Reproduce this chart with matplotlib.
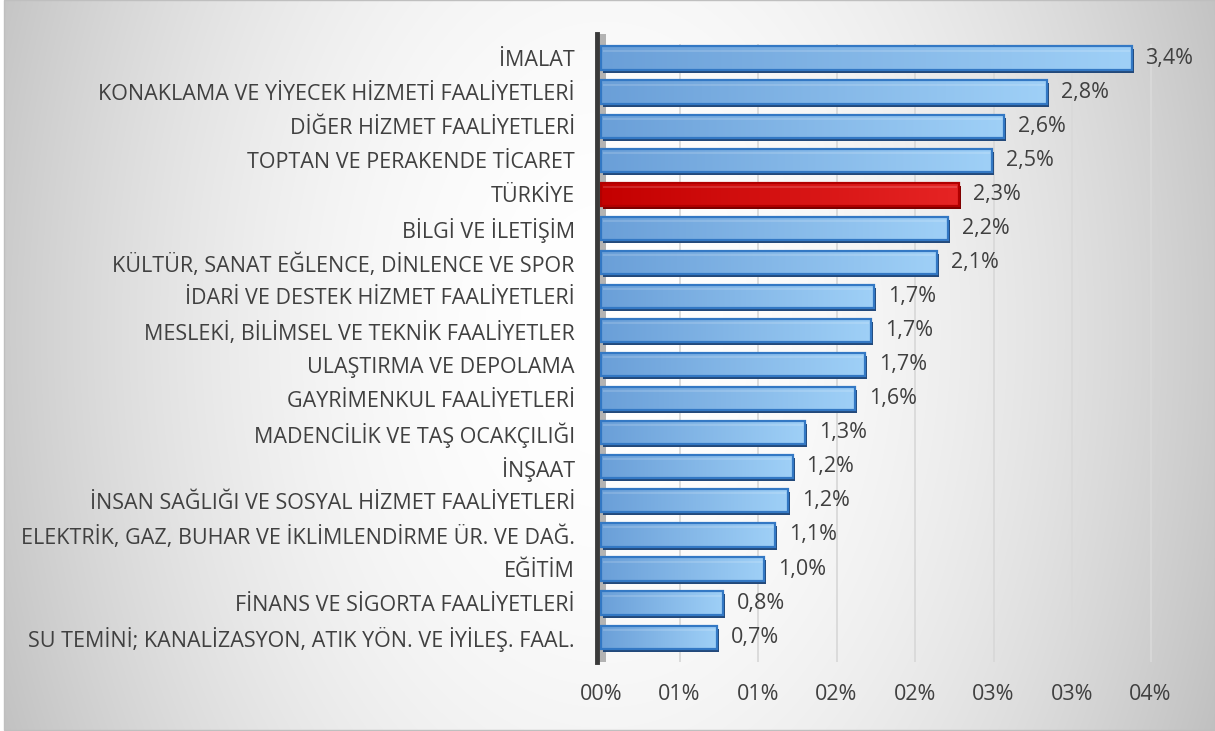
import numpy as np
import matplotlib
matplotlib.use("Agg")
import matplotlib.pyplot as plt
from matplotlib.patches import Rectangle
from matplotlib.transforms import offset_copy

plt.rcParams["font.family"] = ["Open Sans", "DejaVu Sans"]

# ---------- data ----------
categories = [
    "İMALAT",
    "KONAKLAMA VE YİYECEK HİZMETİ FAALİYETLERİ",
    "DİĞER HİZMET FAALİYETLERİ",
    "TOPTAN VE PERAKENDE TİCARET",
    "TÜRKİYE",
    "BİLGİ VE İLETİŞİM",
    "KÜLTÜR, SANAT EĞLENCE, DİNLENCE VE SPOR",
    "İDARİ VE DESTEK HİZMET FAALİYETLERİ",
    "MESLEKİ, BİLİMSEL VE TEKNİK FAALİYETLER",
    "ULAŞTIRMA VE DEPOLAMA",
    "GAYRİMENKUL FAALİYETLERİ",
    "MADENCİLİK VE TAŞ OCAKÇILIĞI",
    "İNŞAAT",
    "İNSAN SAĞLIĞI VE SOSYAL HİZMET FAALİYETLERİ",
    "ELEKTRİK, GAZ, BUHAR VE İKLİMLENDİRME ÜR. VE DAĞ.",
    "EĞİTİM",
    "FİNANS VE SİGORTA FAALİYETLERİ",
    "SU TEMİNİ; KANALİZASYON, ATIK YÖN. VE İYİLEŞ. FAAL.",
]
values = [3.38, 2.84, 2.57, 2.49, 2.28, 2.21, 2.14, 1.74, 1.72, 1.68,
          1.62, 1.30, 1.22, 1.19, 1.11, 1.04, 0.78, 0.74]
highlight = "TÜRKİYE"
xticks = [0, 0.5, 1.0, 1.5, 2.0, 2.5, 3.0, 3.5]
xtick_labels = ["00%", "01%", "01%", "02%", "02%", "03%", "03%", "04%"]

TXT = "#404040"
FS = 15.5
W, H = 1215, 731

fig = plt.figure(figsize=(W / 100, H / 100), dpi=100)

# radial grey background of the chart area
bg = fig.add_axes([4 / W, 1 / H, 1 - 4 / W, 1 - 1 / H], zorder=-10)
yy, xx = np.mgrid[0:H, 0:W - 4]
d2 = ((xx - 600) / 600.0) ** 2 + ((yy - 330) / 900.0) ** 2
shade = np.clip(1 - 0.2 * d2, 0, 1)
bg.imshow(np.dstack([shade] * 3), aspect="auto", interpolation="bilinear")
bg.set_axis_off()
fig.add_artist(Rectangle((4 / W, 1 / H), 1 - 4 / W, 1 - 1 / H, transform=fig.transFigure,
                         fill=False, ec="#bfbfbf", lw=1))

ax = fig.add_axes([597 / W, 1 - 662 / H, (1200 - 597) / W, (662 - 34) / H])
ax.patch.set_alpha(0)
x0, x1 = -4 / 157, (1200 - 601) / 157
y0, y1 = 17.73, -0.705

# side wall next to the axis
ax.axvspan(x0, 0.03, color="#b3b3b3", zorder=1, lw=0)
# gridlines
ax.vlines(xticks[1:], y1 + 0.3, y0, color="#d9d9d9", lw=1.3, zorder=1)

grad = np.linspace(0, 1, 256).reshape(1, -1)
blue_cmap = matplotlib.colors.LinearSegmentedColormap.from_list("b", ["#6a9fd8", "#9fd0f7"])
red_cmap = matplotlib.colors.LinearSegmentedColormap.from_list("r", ["#c40000", "#e62424"])
h = 0.68
shadow_tr = offset_copy(ax.transData, fig=fig, x=2, y=-3, units="dots")
for i, (cat, v) in enumerate(zip(categories, values)):
    red = cat == highlight
    edge = "#b00000" if red else "#3378c4"
    dark = "#7a0000" if red else "#23497a"
    cmap = red_cmap if red else blue_cmap
    sh = Rectangle((0, i - h / 2), v, h, transform=shadow_tr, fc=dark, ec="none", zorder=2)
    ax.add_patch(sh)
    rect = Rectangle((0, i - h / 2), v, h, fc="none", ec=edge, lw=1.6, zorder=4)
    ax.add_patch(rect)
    im = ax.imshow(grad, cmap=cmap, aspect="auto", extent=(0, v, i + h / 2, i - h / 2),
                   zorder=3, interpolation="bilinear")
    im.set_clip_path(rect)
    # thin highlight near top
    ax.plot([0.01, v - 0.01], [i - h / 2 + 0.12, i - h / 2 + 0.12],
            color="white", alpha=0.18, lw=1.2, zorder=3.5, solid_capstyle="butt")
    ax.annotate(f"{v:.1f}%".replace(".", ","), (v, i), xytext=(10, 0),
                textcoords="offset points", va="center", ha="left",
                fontsize=FS, color=TXT, annotation_clip=False)

ax.set_xlim(x0, x1)
ax.set_ylim(y0, y1)
ax.set_yticks(range(len(categories)))
ax.set_yticklabels(categories, fontsize=FS, color=TXT)
ax.set_xticks(xticks)
ax.set_xticklabels(xtick_labels, fontsize=FS, color=TXT)
ax.tick_params(axis="y", length=0, pad=16)
ax.tick_params(axis="x", length=0, pad=16)
for s in ("top", "right", "bottom"):
    ax.spines[s].set_visible(False)
ax.spines["left"].set_color("#3a3a3a")
ax.spines["left"].set_linewidth(3.5)
ax.spines["left"].set_zorder(5)

fig.savefig("out.png", dpi=100)
